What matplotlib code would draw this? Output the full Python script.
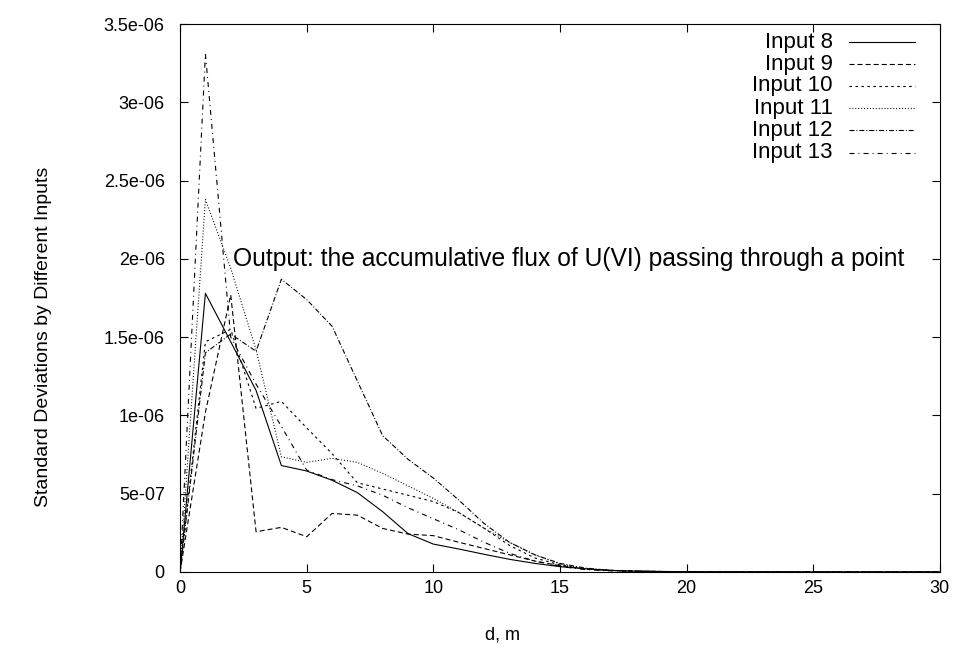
import numpy as np
import matplotlib
matplotlib.use("Agg")
import matplotlib.pyplot as plt

plt.rcParams["font.family"] = ["Liberation Sans", "DejaVu Sans"]
plt.rcParams["lines.scale_dashes"] = False

# distance along the flow path, m
d = list(range(0, 31))

# standard deviations (x 1e-6)
input8 = [0, 1.78, 1.47, 1.16, 0.68, 0.645, 0.586, 0.507, 0.385, 0.245, 0.178, 0.147,
          0.113, 0.081, 0.055, 0.034, 0.02, 0.01, 0.005, 0.003, 0.002, 0.001, 0.0005,
          0.0003, 0.0002, 0.0001, 0, 0, 0, 0, 0]
input9 = [0, 1.02, 1.77, 0.257, 0.285, 0.225, 0.374, 0.363, 0.278, 0.242, 0.232, 0.19,
          0.15, 0.11, 0.07, 0.04, 0.02, 0.01, 0.005, 0.003, 0.002, 0.001, 0.0005,
          0.0003, 0.0002, 0.0001, 0, 0, 0, 0, 0]
input10 = [0, 1.47, 1.55, 1.045, 1.09, 0.92, 0.756, 0.57, 0.53, 0.49, 0.45, 0.38,
           0.28, 0.17, 0.09, 0.045, 0.02, 0.01, 0.005, 0.003, 0.002, 0.001, 0.0005,
           0.0003, 0.0002, 0.0001, 0, 0, 0, 0, 0]
input11 = [0, 2.38, 1.94, 1.42, 0.736, 0.70, 0.726, 0.70, 0.63, 0.55, 0.47, 0.38,
           0.28, 0.19, 0.11, 0.05, 0.02, 0.01, 0.005, 0.003, 0.002, 0.001, 0.0005,
           0.0003, 0.0002, 0.0001, 0, 0, 0, 0, 0]
input12 = [0, 1.40, 1.52, 1.41, 1.87, 1.74, 1.57, 1.22, 0.87, 0.72, 0.60, 0.46,
           0.31, 0.19, 0.11, 0.055, 0.025, 0.01, 0.005, 0.003, 0.002, 0.001, 0.0005,
           0.0003, 0.0002, 0.0001, 0, 0, 0, 0, 0]
input13 = [0, 3.31, 1.50, 1.20, 0.93, 0.65, 0.59, 0.55, 0.49, 0.41, 0.34, 0.27,
           0.19, 0.12, 0.07, 0.035, 0.015, 0.007, 0.004, 0.002, 0.001, 0.0005, 0.0003,
           0.0002, 0.0001, 0, 0, 0, 0, 0, 0]

labels = ["Input 8", "Input 9", "Input 10", "Input 11", "Input 12", "Input 13"]
series = [input8, input9, input10, input11, input12, input13]

yticks = [0, 0.5e-6, 1e-6, 1.5e-6, 2e-6, 2.5e-6, 3e-6, 3.5e-6]
ytick_labels = ["0", "5e-07", "1e-06", "1.5e-06", "2e-06", "2.5e-06", "3e-06", "3.5e-06"]
xticks = [0, 5, 10, 15, 20, 25, 30]

# gnuplot-ish dash patterns (points, unscaled)
styles = ["-", (0, (3.6, 2.2)), (0, (1.8, 2.5)), (0, (0.7, 1.4)),
          (0, (3.6, 1.4, 0.7, 1.4)), (0, (3.6, 2.9, 0.7, 2.9))]

fig = plt.figure(figsize=(9.63, 6.51), dpi=100)
ax = fig.add_axes([0.187, 0.1214, 0.789, 0.8416])

for vals, ls in zip(series, styles):
    ax.plot(d, np.array(vals) * 1e-6, color="black", lw=0.8, linestyle=ls)

# legend drawn by hand: right-aligned labels, sample line on the right
leg_y = [0.967, 0.927, 0.887, 0.846, 0.806, 0.765]
for lab, ls, y in zip(labels, styles, leg_y):
    ax.text(0.859, y, lab, ha="right", va="center", fontsize=16, transform=ax.transAxes)
    ax.plot([0.880, 0.967], [y, y], color="black", lw=0.8, linestyle=ls,
            transform=ax.transAxes)

ax.text(2.09, 2.0e-6, "Output: the accumulative flux of U(VI) passing through a point",
        ha="left", va="center", fontsize=17.7)

ax.set_xlim(0, 30)
ax.set_ylim(0, 3.5e-6)
ax.set_xticks(xticks)
ax.set_xticklabels([str(t) for t in xticks])
ax.set_yticks(yticks)
ax.set_yticklabels(ytick_labels)
ax.tick_params(direction="in", length=6, width=0.8, top=True, right=True, labelsize=13)
ax.tick_params(axis="x", pad=6)
ax.tick_params(axis="y", pad=11)
for s in ax.spines.values():
    s.set_linewidth(0.8)

ax.set_xlabel("d, m", fontsize=13)
ax.set_ylabel("Standard Deviations by Different Inputs", fontsize=14)
ax.xaxis.set_label_coords(0.425, -0.100)
ax.yaxis.set_label_coords(-0.168, 0.429)

fig.savefig("out.png", dpi=100)
